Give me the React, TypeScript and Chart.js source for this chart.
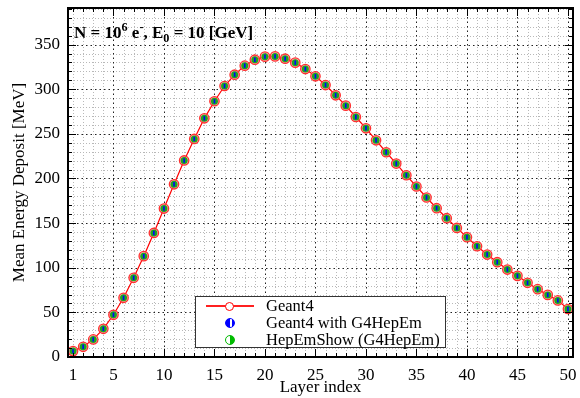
import React, { useEffect, useRef } from "react";
import { Chart, registerables } from "chart.js";
Chart.register(...registerables);

const layers = [
  1, 2, 3, 4, 5, 6, 7, 8, 9, 10, 11, 12, 13, 14, 15, 16, 17, 18, 19, 20, 21, 22, 23, 24, 25,
  26, 27, 28, 29, 30, 31, 32, 33, 34, 35, 36, 37, 38, 39, 40, 41, 42, 43, 44, 45, 46, 47, 48, 49, 50,
];
const geant4 = [
  6.6, 11.4, 19.7, 31.6, 47.3, 66.3, 88.7, 113.0, 139.0, 166.3, 193.5, 220.2, 244.3, 267.4, 286.5,
  303.6, 316.3, 326.4, 333.1, 336.5, 336.8, 334.2, 329.8, 322.6, 314.5, 304.7, 293.2, 281.6, 268.9,
  256.2, 242.8, 229.4, 216.7, 203.6, 191.0, 178.7, 166.7, 155.5, 144.6, 134.2, 124.1, 114.8, 106.2,
  98.0, 90.9, 83.1, 76.0, 69.6, 63.4, 53.8,
];
const g4hepem = [
  6.6, 11.4, 19.7, 31.6, 47.3, 66.3, 88.7, 113.0, 139.0, 166.3, 193.5, 220.2, 244.3, 267.4, 286.5,
  303.6, 316.3, 326.4, 333.1, 336.5, 336.8, 334.2, 329.8, 322.6, 314.5, 304.7, 293.2, 281.6, 268.9,
  256.2, 242.8, 229.4, 216.7, 203.6, 191.0, 178.7, 166.7, 155.5, 144.6, 134.2, 124.1, 114.8, 106.2,
  98.0, 90.9, 83.1, 76.0, 69.6, 63.4, 53.8,
];
const hepemshow = [
  6.6, 11.4, 19.7, 31.6, 47.3, 66.3, 88.7, 113.0, 139.0, 166.3, 193.5, 220.2, 244.3, 267.4, 286.5,
  303.6, 316.3, 326.4, 333.1, 336.5, 336.8, 334.2, 329.8, 322.6, 314.5, 304.7, 293.2, 281.6, 268.9,
  256.2, 242.8, 229.4, 216.7, 203.6, 191.0, 178.7, 166.7, 155.5, 144.6, 134.2, 124.1, 114.8, 106.2,
  98.0, 90.9, 83.1, 76.0, 69.6, 63.4, 53.8,
];
const xTickLabels = [1, 5, 10, 15, 20, 25, 30, 35, 40, 45, 50];
const yTickLabels = [0, 50, 100, 150, 200, 250, 300, 350];
const seriesNames = ["Geant4", "Geant4 with G4HepEm", "HepEmShow (G4HepEm)"];

const FONT = "'Liberation Serif', 'Times New Roman', serif";

const framePlugin = {
  id: "rootFrame",
  beforeDatasetsDraw(chart: any) {
    const { ctx, chartArea: a, scales } = chart;
    const x = scales.x;
    const y = scales.y;
    ctx.save();
    ctx.beginPath();
    ctx.rect(a.left, a.top, a.right - a.left, a.bottom - a.top);
    ctx.clip();
    ctx.lineWidth = 1;
    ctx.strokeStyle = "#b8b8b8";
    ctx.setLineDash([1, 2]);
    ctx.beginPath();
    for (let v = 1; v <= 50; v++) {
      if (v % 5 === 0) continue;
      const px = Math.round(x.getPixelForValue(v)) + 0.5;
      ctx.moveTo(px, a.top);
      ctx.lineTo(px, a.bottom);
    }
    for (let v = 10; v <= 390; v += 10) {
      if (v % 50 === 0) continue;
      const py = Math.round(y.getPixelForValue(v)) + 0.5;
      ctx.moveTo(a.left, py);
      ctx.lineTo(a.right, py);
    }
    ctx.stroke();
    ctx.strokeStyle = "#222";
    ctx.setLineDash([1.5, 3]);
    ctx.beginPath();
    for (let v = 5; v <= 50; v += 5) {
      const px = Math.round(x.getPixelForValue(v)) + 0.5;
      ctx.moveTo(px, a.top);
      ctx.lineTo(px, a.bottom);
    }
    for (let v = 50; v <= 350; v += 50) {
      const py = Math.round(y.getPixelForValue(v)) + 0.5;
      ctx.moveTo(a.left, py);
      ctx.lineTo(a.right, py);
    }
    ctx.stroke();
    ctx.restore();
  },
  afterDatasetsDraw(chart: any) {
    const { ctx, chartArea: a, scales } = chart;
    const x = scales.x;
    const y = scales.y;
    ctx.save();
    ctx.setLineDash([]);
    ctx.strokeStyle = "#000";
    ctx.lineWidth = 1;
    ctx.beginPath();
    for (let v = 1; v <= 50; v++) {
      const len = v % 5 === 0 ? 8 : 4;
      const px = Math.round(x.getPixelForValue(v)) + 0.5;
      ctx.moveTo(px, a.bottom);
      ctx.lineTo(px, a.bottom - len);
      ctx.moveTo(px, a.top);
      ctx.lineTo(px, a.top + len);
    }
    for (let v = 0; v <= 390; v += 10) {
      const len = v % 50 === 0 ? 8 : 4;
      const py = Math.round(y.getPixelForValue(v)) + 0.5;
      ctx.moveTo(a.left, py);
      ctx.lineTo(a.left + len, py);
      ctx.moveTo(a.right, py);
      ctx.lineTo(a.right - len, py);
    }
    ctx.stroke();
    ctx.lineWidth = 2;
    ctx.strokeRect(a.left, a.top, a.right - a.left, a.bottom - a.top);
    ctx.restore();
  },
};

const zeroPad = (s: any) => {
  s.paddingLeft = 0;
  s.paddingRight = 0;
  s.paddingTop = 0;
  s.paddingBottom = 0;
};

export default function App() {
  const ref = useRef<HTMLCanvasElement>(null);
  useEffect(() => {
    if (!ref.current) return;
    const chart = new Chart(ref.current, {
      type: "line",
      data: {
        labels: layers,
        datasets: [
          {
            label: seriesNames[0],
            data: layers.map((l, i) => ({ x: l, y: geant4[i] })),
            borderColor: "#ff0000",
            borderWidth: 1.2,
            pointRadius: 4.7,
            pointBorderWidth: 1.3,
            pointBorderColor: "#ff3030",
            pointBackgroundColor: "rgba(255,140,140,0.7)",
            order: 3,
            clip: false as any,
          },
          {
            label: seriesNames[2],
            data: layers.map((l, i) => ({ x: l, y: hepemshow[i] })),
            showLine: false,
            pointRadius: 3.5,
            pointBorderWidth: 0,
            pointBackgroundColor: "#1fa51f",
            pointBorderColor: "#1fa51f",
            order: 2,
            clip: false as any,
          },
          {
            label: seriesNames[1],
            data: layers.map((l, i) => ({ x: l, y: g4hepem[i] })),
            showLine: false,
            pointStyle: "line",
            pointRotation: 90,
            pointRadius: 2.2,
            pointBorderWidth: 1.6,
            pointBorderColor: "#0000ff",
            pointBackgroundColor: "#0000ff",
            order: 1,
            clip: false as any,
          },
        ],
      },
      options: {
        animation: false,
        responsive: false,
        events: [],
        layout: { padding: { left: 0, right: 7, top: 8, bottom: 0 } },
        plugins: { legend: { display: false }, tooltip: { enabled: false } },
        scales: {
          x: {
            type: "linear",
            min: 0.5,
            max: 50.5,
            grid: { display: false, drawTicks: false },
            border: { display: false },
            afterBuildTicks: (s: any) => {
              s.ticks = xTickLabels.map((v) => ({ value: v }));
            },
            afterFit: (s: any) => {
              s.height = 41;
              zeroPad(s);
            },
            ticks: {
              autoSkip: false,
              maxRotation: 0,
              padding: 8,
              color: "#000",
              font: { family: FONT, size: 17 },
            },
            title: {
              display: true,
              text: "Layer index",
              color: "#000",
              font: { family: FONT, size: 17 },
              padding: { top: 0, bottom: 0 },
            },
          },
          y: {
            type: "linear",
            min: 0,
            max: 391,
            grid: { display: false, drawTicks: false },
            border: { display: false },
            afterBuildTicks: (s: any) => {
              s.ticks = yTickLabels.map((v) => ({ value: v }));
            },
            afterFit: (s: any) => {
              s.width = 68;
              zeroPad(s);
            },
            ticks: {
              autoSkip: false,
              padding: 8,
              color: "#000",
              font: { family: FONT, size: 17 },
            },
            title: {
              display: true,
              text: "Mean Energy Deposit [MeV]",
              color: "#000",
              font: { family: FONT, size: 17 },
              padding: { top: 9, bottom: 0 },
            },
          },
        },
      },
      plugins: [framePlugin],
    } as any);
    return () => chart.destroy();
  }, []);

  const rowText: React.CSSProperties = {
    position: "absolute",
    left: 70,
    height: 18,
    lineHeight: "18px",
    fontFamily: FONT,
    fontSize: 16.5,
    color: "#000",
    whiteSpace: "nowrap",
  };
  const marker = (bg: string, border: string): React.CSSProperties => ({
    position: "absolute",
    width: 10,
    height: 10,
    borderRadius: "50%",
    border: `1.4px solid ${border}`,
    background: bg,
    boxSizing: "border-box",
  });

  return (
    <div style={{ position: "absolute", left: 0, top: 0, width: 580, height: 398, background: "#fff" }}>
      <canvas ref={ref} width={580} height={398} style={{ display: "block" }} />
      <div
        style={{
          position: "absolute",
          left: 74,
          top: 24,
          fontFamily: FONT,
          fontWeight: "bold",
          fontSize: 17,
          lineHeight: "17px",
          whiteSpace: "nowrap",
          color: "#000",
        }}
      >
        N = 10
        <span style={{ fontSize: "0.72em", position: "relative", top: "-0.55em" }}>6</span> e
        <span style={{ fontSize: "0.72em", position: "relative", top: "-0.55em" }}>-</span>, E
        <span style={{ fontSize: "0.72em", position: "relative", top: "0.3em" }}>0</span> = 10 [GeV]
      </div>
      <div
        style={{
          position: "absolute",
          left: 195,
          top: 296,
          width: 251,
          height: 52,
          border: "1px solid #333",
          background: "#fff",
          boxSizing: "border-box",
        }}
      >
        <div style={{ position: "absolute", left: 10, top: 8, width: 48, height: 2, background: "#ff2020" }} />
        <div style={{ ...marker("#fff", "#ff0000"), left: 29, top: 4.5, width: 9, height: 9 }} />
        <div style={{ ...rowText, top: 0 }}>{seriesNames[0]}</div>
        <div
          style={{
            ...marker("linear-gradient(to right, #0000ff 55%, #fff 55%, #fff 75%, #0000ff 75%)", "#0000ff"),
            left: 29,
            top: 21,
          }}
        />
        <div style={{ ...rowText, top: 17 }}>{seriesNames[1]}</div>
        <div
          style={{
            ...marker("linear-gradient(to right, #fff 45%, #00bb00 45%)", "#00bb00"),
            left: 29,
            top: 38,
          }}
        />
        <div style={{ ...rowText, top: 34 }}>{seriesNames[2]}</div>
      </div>
    </div>
  );
}
